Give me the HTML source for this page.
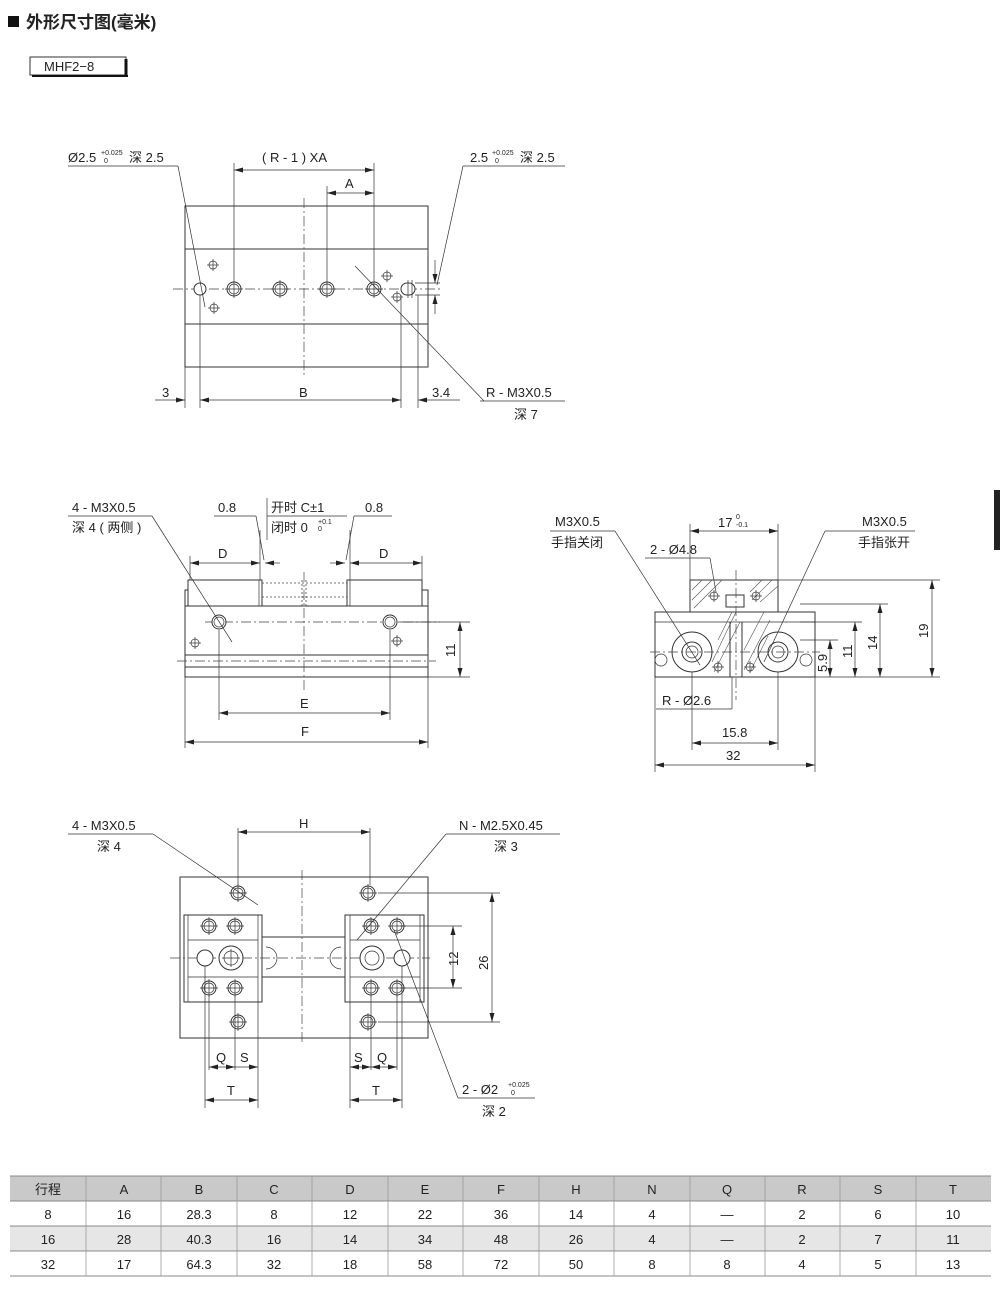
<!DOCTYPE html>
<html><head><meta charset="utf-8"><style>
body{margin:0;background:#fff;width:1000px;height:1293px;overflow:hidden;font-family:"Liberation Sans","Noto Sans CJK SC",sans-serif}
svg{position:absolute;left:0;top:0}
text{font-family:"Liberation Sans","Noto Sans CJK SC",sans-serif;fill:#222;font-size:13px}
.l{stroke:#333;stroke-width:1;fill:none}
.t{stroke:#333;stroke-width:0.7;fill:none}
.c{stroke:#444;stroke-width:0.7;fill:none;stroke-dasharray:10 3 2 3}
.d{stroke:#444;stroke-width:0.8;fill:none;stroke-dasharray:2 2}
.h{stroke:#333;stroke-width:1;fill:#fff}
</style></head><body>
<svg width="1000" height="1293" viewBox="0 0 1000 1293">
<defs>
<marker id="a" markerWidth="10" markerHeight="6" refX="9" refY="3" orient="auto-start-reverse" markerUnits="userSpaceOnUse"><path d="M0,0.5 L9,3 L0,5.5z" fill="#222"/></marker>
<g id="hole"><circle r="7" class="h"/><circle r="5" class="t"/><line x1="-9" y1="0" x2="9" y2="0" class="t"/><line x1="0" y1="-9" x2="0" y2="9" class="t"/></g>
<g id="pin"><circle r="4" class="t"/><line x1="-6" y1="0" x2="6" y2="0" class="t"/><line x1="0" y1="-6" x2="0" y2="6" class="t"/></g>
</defs>

<!-- title -->
<rect x="8" y="16" width="11" height="11" fill="#111"/>
<text x="26" y="28" style="font-size:17px;font-weight:bold">外形尺寸图(毫米)</text>
<rect x="30" y="57" width="96" height="18" fill="#fff" stroke="#333"/>
<line x1="126" y1="59" x2="126" y2="77" stroke="#111" stroke-width="3"/>
<line x1="32" y1="76" x2="128" y2="76" stroke="#111" stroke-width="2"/>
<text x="44" y="71" style="font-size:13px">MHF2−8</text>

<!-- ===== TOP VIEW ===== -->
<rect x="185" y="206" width="243" height="161" class="l"/>
<line x1="185" y1="249" x2="428" y2="249" class="l"/>
<line x1="185" y1="324" x2="428" y2="324" class="l"/>
<line x1="173" y1="289" x2="440" y2="289" class="c"/>
<line x1="304" y1="198" x2="304" y2="378" class="c"/>
<circle cx="200" cy="289" r="6" class="h"/>
<use href="#hole" x="234" y="289"/><use href="#hole" x="280" y="289"/><use href="#hole" x="327" y="289"/><use href="#hole" x="374" y="289"/>
<rect x="401" y="283" width="14" height="12" rx="6" class="h"/><line x1="408" y1="280" x2="408" y2="298" class="t"/><line x1="412" y1="280" x2="412" y2="298" class="t"/>
<use href="#pin" x="213" y="265"/><use href="#pin" x="214" y="308"/><use href="#pin" x="387" y="276"/><use href="#pin" x="397" y="297"/>
<line x1="415" y1="283" x2="440" y2="283" class="t"/><line x1="415" y1="295" x2="440" y2="295" class="t"/>
<line x1="435" y1="260" x2="435" y2="283" class="t" marker-end="url(#a)"/><line x1="435" y1="314" x2="435" y2="295" class="t" marker-end="url(#a)"/>
<!-- top dims -->
<line x1="234" y1="163" x2="234" y2="280" class="t"/><line x1="374" y1="163" x2="374" y2="280" class="t"/><line x1="327" y1="186" x2="327" y2="280" class="t"/>
<line x1="234" y1="170" x2="374" y2="170" class="t" marker-start="url(#a)" marker-end="url(#a)"/>
<line x1="327" y1="193" x2="374" y2="193" class="t" marker-start="url(#a)" marker-end="url(#a)"/>
<text x="262" y="162">( R - 1 ) XA</text><text x="345" y="188">A</text>
<!-- bottom dims -->
<line x1="185" y1="367" x2="185" y2="408" class="t"/><line x1="200" y1="295" x2="200" y2="408" class="t"/>
<line x1="401" y1="295" x2="401" y2="408" class="t"/><line x1="418" y1="295" x2="418" y2="408" class="t"/>
<line x1="155" y1="400" x2="185" y2="400" class="t" marker-end="url(#a)"/>
<line x1="200" y1="400" x2="401" y2="400" class="t" marker-start="url(#a)" marker-end="url(#a)"/>
<line x1="460" y1="400" x2="418" y2="400" class="t" marker-end="url(#a)"/>
<text x="162" y="397">3</text><text x="299" y="397">B</text><text x="432" y="397">3.4</text>
<text x="486" y="397">R - M3X0.5</text><line x1="480" y1="401" x2="565" y2="401" class="t"/><text x="514" y="419">深 7</text>
<line x1="355" y1="266" x2="484" y2="401" class="t"/>
<text x="68" y="162">Ø2.5</text><text x="101" y="155" style="font-size:7px">+0.025</text><text x="104" y="163" style="font-size:7px">0</text><text x="129" y="162">深 2.5</text>
<line x1="68" y1="166" x2="178" y2="166" class="t"/><line x1="178" y1="166" x2="205" y2="307" class="t"/>
<text x="470" y="162">2.5</text><text x="492" y="155" style="font-size:7px">+0.025</text><text x="495" y="163" style="font-size:7px">0</text><text x="520" y="162">深 2.5</text>
<line x1="463" y1="166" x2="565" y2="166" class="t"/><line x1="463" y1="166" x2="437" y2="285" class="t"/>

<!-- ===== FRONT VIEW ===== -->
<rect x="185" y="606" width="243" height="71" class="l"/>
<line x1="185" y1="655" x2="428" y2="655" class="l"/><line x1="185" y1="667" x2="428" y2="667" class="l"/>
<path d="M188,606 V580 H262 V606 M185,606 V590 H188" class="l"/>
<path d="M347,606 V580 H422 V606 M428,606 V590 H422" class="l"/>
<line x1="259" y1="580" x2="259" y2="606" class="t"/><line x1="350" y1="580" x2="350" y2="606" class="t"/>
<line x1="262" y1="583" x2="347" y2="583" class="d"/><line x1="262" y1="597" x2="347" y2="597" class="d"/>
<line x1="302" y1="580" x2="302" y2="606" class="d"/><line x1="306" y1="580" x2="306" y2="606" class="d"/>
<line x1="304" y1="572" x2="304" y2="690" class="c"/>
<line x1="205" y1="622" x2="440" y2="622" class="c"/><line x1="177" y1="661" x2="436" y2="661" class="c"/>
<circle cx="219" cy="622" r="7" class="h"/><circle cx="219" cy="622" r="5" class="t"/>
<circle cx="390" cy="622" r="7" class="h"/><circle cx="390" cy="622" r="5" class="t"/>
<use href="#pin" x="195" y="643"/><use href="#pin" x="397" y="641"/>
<line x1="190" y1="556" x2="190" y2="580" class="t"/><line x1="260" y1="530" x2="260" y2="580" class="t"/>
<line x1="350" y1="530" x2="350" y2="580" class="t"/><line x1="422" y1="556" x2="422" y2="580" class="t"/>
<line x1="190" y1="563" x2="260" y2="563" class="t" marker-start="url(#a)" marker-end="url(#a)"/>
<line x1="350" y1="563" x2="422" y2="563" class="t" marker-start="url(#a)" marker-end="url(#a)"/>
<line x1="280" y1="563" x2="265" y2="563" class="t" marker-end="url(#a)"/><line x1="330" y1="563" x2="345" y2="563" class="t" marker-end="url(#a)"/>
<text x="218" y="558">D</text><text x="379" y="558">D</text>
<text x="218" y="512">0.8</text><line x1="214" y1="516" x2="256" y2="516" class="t"/><line x1="256" y1="516" x2="264" y2="560" class="t"/>
<text x="365" y="512">0.8</text><line x1="354" y1="516" x2="392" y2="516" class="t"/><line x1="354" y1="516" x2="346" y2="560" class="t"/>
<text x="271" y="512">开时 C±1</text><line x1="267" y1="516" x2="347" y2="516" class="t"/><text x="271" y="532">闭时 0</text><text x="318" y="524" style="font-size:7px">+0.1</text><text x="318" y="531" style="font-size:7px">0</text>
<line x1="267" y1="498" x2="267" y2="540" class="t"/>
<text x="72" y="512">4 - M3X0.5</text><line x1="68" y1="516" x2="152" y2="516" class="t"/><text x="72" y="532">深 4 ( 两侧 )</text>
<line x1="152" y1="516" x2="232" y2="642" class="t"/>
<line x1="219" y1="630" x2="219" y2="720" class="t"/><line x1="390" y1="630" x2="390" y2="720" class="t"/>
<line x1="185" y1="677" x2="185" y2="748" class="t"/><line x1="428" y1="677" x2="428" y2="748" class="t"/>
<line x1="219" y1="713" x2="390" y2="713" class="t" marker-start="url(#a)" marker-end="url(#a)"/>
<line x1="185" y1="742" x2="428" y2="742" class="t" marker-start="url(#a)" marker-end="url(#a)"/>
<text x="300" y="708">E</text><text x="301" y="736">F</text>
<line x1="400" y1="622" x2="470" y2="622" class="t"/><line x1="428" y1="677" x2="470" y2="677" class="t"/>
<line x1="460" y1="622" x2="460" y2="677" class="t" marker-start="url(#a)" marker-end="url(#a)"/>
<text x="0" y="0" transform="translate(455,657) rotate(-90)">11</text>

<!-- ===== SIDE VIEW ===== -->
<rect x="655" y="612" width="160" height="65" class="l"/>
<line x1="655" y1="622" x2="815" y2="622" class="t"/>
<rect x="690" y="580" width="88" height="32" class="l"/>
<g stroke="#555" stroke-width="0.6">
<line x1="692" y1="590" x2="702" y2="580"/><line x1="692" y1="600" x2="712" y2="580"/><line x1="694" y1="608" x2="722" y2="580"/>
<line x1="750" y1="592" x2="762" y2="580"/><line x1="752" y1="600" x2="772" y2="580"/><line x1="760" y1="602" x2="778" y2="586"/>
<line x1="718" y1="640" x2="732" y2="612"/><line x1="712" y1="662" x2="736" y2="612"/><line x1="714" y1="672" x2="740" y2="622"/>
<line x1="744" y1="650" x2="764" y2="612"/><line x1="744" y1="670" x2="770" y2="620"/><line x1="750" y1="672" x2="768" y2="636"/>
</g>
<rect x="726" y="595" width="18" height="12" class="h"/>
<line x1="730" y1="622" x2="730" y2="677" class="l"/><line x1="742" y1="622" x2="742" y2="677" class="l"/>
<line x1="736" y1="570" x2="736" y2="700" class="c"/>
<circle cx="692" cy="652" r="20" class="l"/><circle cx="692" cy="652" r="10" class="l"/><circle cx="692" cy="652" r="6" class="t"/>
<circle cx="778" cy="652" r="20" class="l"/><circle cx="778" cy="652" r="10" class="l"/><circle cx="778" cy="652" r="6" class="t"/>
<circle cx="661" cy="660" r="6" class="t"/><circle cx="806" cy="660" r="6" class="t"/>
<use href="#pin" x="714" y="596"/><use href="#pin" x="756" y="596"/><use href="#pin" x="718" y="667"/><use href="#pin" x="750" y="667"/>
<line x1="650" y1="652" x2="820" y2="652" class="c"/>
<line x1="690" y1="524" x2="690" y2="580" class="t"/><line x1="778" y1="524" x2="778" y2="580" class="t"/>
<line x1="690" y1="531" x2="778" y2="531" class="t" marker-start="url(#a)" marker-end="url(#a)"/>
<text x="718" y="527">17</text><text x="736" y="519" style="font-size:7px">0</text><text x="736" y="527" style="font-size:7px">-0.1</text>
<text x="650" y="554">2 - Ø4.8</text><line x1="645" y1="558" x2="710" y2="558" class="t"/><line x1="710" y1="558" x2="716" y2="592" class="t"/>
<text x="555" y="526">M3X0.5</text><text x="551" y="547">手指关闭</text><line x1="550" y1="531" x2="615" y2="531" class="t"/><line x1="615" y1="531" x2="700" y2="665" class="t"/>
<text x="862" y="526">M3X0.5</text><text x="858" y="547">手指张开</text><line x1="825" y1="531" x2="915" y2="531" class="t"/><line x1="825" y1="531" x2="764" y2="662" class="t"/>
<text x="662" y="705">R - Ø2.6</text><line x1="656" y1="709" x2="732" y2="709" class="t"/><line x1="732" y1="709" x2="732" y2="677" class="t"/>
<line x1="692" y1="672" x2="692" y2="750" class="t"/><line x1="778" y1="672" x2="778" y2="750" class="t"/>
<line x1="655" y1="677" x2="655" y2="772" class="t"/><line x1="815" y1="677" x2="815" y2="772" class="t"/>
<line x1="692" y1="743" x2="778" y2="743" class="t" marker-start="url(#a)" marker-end="url(#a)"/>
<line x1="655" y1="765" x2="815" y2="765" class="t" marker-start="url(#a)" marker-end="url(#a)"/>
<text x="722" y="737">15.8</text><text x="726" y="760">32</text>
<line x1="815" y1="677" x2="940" y2="677" class="t"/>
<line x1="800" y1="640" x2="838" y2="640" class="t"/><line x1="800" y1="622" x2="862" y2="622" class="t"/><line x1="800" y1="604" x2="888" y2="604" class="t"/><line x1="778" y1="580" x2="940" y2="580" class="t"/>
<line x1="830" y1="640" x2="830" y2="677" class="t" marker-start="url(#a)" marker-end="url(#a)"/>
<line x1="855" y1="622" x2="855" y2="677" class="t" marker-start="url(#a)" marker-end="url(#a)"/>
<line x1="880" y1="604" x2="880" y2="677" class="t" marker-start="url(#a)" marker-end="url(#a)"/>
<line x1="932" y1="580" x2="932" y2="677" class="t" marker-start="url(#a)" marker-end="url(#a)"/>
<text transform="translate(827,672) rotate(-90)">5.9</text>
<text transform="translate(852,658) rotate(-90)">11</text>
<text transform="translate(877,650) rotate(-90)">14</text>
<text transform="translate(928,638) rotate(-90)">19</text>
<rect x="994" y="490" width="6" height="60" fill="#222"/>

<!-- ===== BOTTOM VIEW ===== -->
<rect x="180" y="877" width="248" height="161" class="l"/>
<rect x="184" y="915" width="78" height="87" class="h"/><line x1="188" y1="915" x2="188" y2="1002" class="t"/><line x1="258" y1="915" x2="258" y2="1002" class="t"/>
<rect x="345" y="915" width="79" height="87" class="h"/><line x1="350" y1="915" x2="350" y2="1002" class="t"/><line x1="420" y1="915" x2="420" y2="1002" class="t"/>
<line x1="188" y1="940" x2="258" y2="940" class="t"/><line x1="188" y1="977" x2="258" y2="977" class="t"/>
<line x1="350" y1="940" x2="420" y2="940" class="t"/><line x1="350" y1="977" x2="420" y2="977" class="t"/>
<line x1="262" y1="937" x2="345" y2="937" class="l"/><line x1="262" y1="977" x2="345" y2="977" class="l"/>
<line x1="170" y1="958" x2="430" y2="958" class="c"/><line x1="302" y1="870" x2="302" y2="1045" class="c"/>
<use href="#hole" x="238" y="893"/><use href="#hole" x="368" y="893"/><use href="#hole" x="238" y="1022"/><use href="#hole" x="368" y="1022"/>
<use href="#hole" x="209" y="926"/><use href="#hole" x="235" y="926"/><use href="#hole" x="209" y="988"/><use href="#hole" x="235" y="988"/>
<use href="#hole" x="371" y="926"/><use href="#hole" x="397" y="926"/><use href="#hole" x="371" y="988"/><use href="#hole" x="397" y="988"/>
<circle cx="205" cy="958" r="8" class="h"/><circle cx="402" cy="958" r="8" class="h"/>
<circle cx="231" cy="958" r="12" class="h"/><circle cx="231" cy="958" r="7" class="t"/><line x1="222" y1="958" x2="240" y2="958" class="t"/><line x1="231" y1="949" x2="231" y2="967" class="t"/>
<circle cx="372" cy="958" r="12" class="h"/><circle cx="372" cy="958" r="7" class="t"/>
<path d="M266,947 A10,10 0 0 1 266,969" class="t"/><path d="M341,947 A10,10 0 0 0 341,969" class="t"/>
<line x1="238" y1="828" x2="238" y2="885" class="t"/><line x1="370" y1="828" x2="370" y2="885" class="t"/>
<line x1="238" y1="832" x2="370" y2="832" class="t" marker-start="url(#a)" marker-end="url(#a)"/>
<text x="299" y="828">H</text>
<text x="72" y="830">4 - M3X0.5</text><text x="97" y="851">深 4</text><line x1="68" y1="834" x2="153" y2="834" class="t"/><line x1="153" y1="834" x2="258" y2="905" class="t"/>
<text x="459" y="830">N - M2.5X0.45</text><text x="494" y="851">深 3</text><line x1="446" y1="834" x2="560" y2="834" class="t"/><line x1="446" y1="834" x2="357" y2="940" class="t"/>
<line x1="400" y1="926" x2="462" y2="926" class="t"/><line x1="400" y1="988" x2="462" y2="988" class="t"/>
<line x1="378" y1="893" x2="500" y2="893" class="t"/><line x1="378" y1="1022" x2="500" y2="1022" class="t"/>
<line x1="453" y1="926" x2="453" y2="988" class="t" marker-start="url(#a)" marker-end="url(#a)"/>
<line x1="492" y1="893" x2="492" y2="1022" class="t" marker-start="url(#a)" marker-end="url(#a)"/>
<text transform="translate(458,966) rotate(-90)">12</text><text transform="translate(488,970) rotate(-90)">26</text>
<text x="462" y="1094">2 - Ø2</text><text x="508" y="1087" style="font-size:7px">+0.025</text><text x="511" y="1095" style="font-size:7px">0</text><text x="482" y="1116">深 2</text>
<line x1="458" y1="1098" x2="535" y2="1098" class="t"/><line x1="458" y1="1098" x2="394" y2="930" class="t"/>
<!-- Q S T -->
<line x1="205" y1="966" x2="205" y2="1108" class="t"/><line x1="209" y1="996" x2="209" y2="1070" class="t"/><line x1="235" y1="996" x2="235" y2="1070" class="t"/><line x1="258" y1="1002" x2="258" y2="1108" class="t"/>
<line x1="350" y1="1002" x2="350" y2="1108" class="t"/><line x1="371" y1="996" x2="371" y2="1070" class="t"/><line x1="397" y1="996" x2="397" y2="1070" class="t"/><line x1="402" y1="966" x2="402" y2="1108" class="t"/>
<line x1="209" y1="1067" x2="235" y2="1067" class="t" marker-start="url(#a)" marker-end="url(#a)"/>
<line x1="235" y1="1067" x2="258" y2="1067" class="t" marker-end="url(#a)"/>
<line x1="350" y1="1067" x2="371" y2="1067" class="t" marker-start="url(#a)" marker-end="url(#a)"/>
<line x1="371" y1="1067" x2="397" y2="1067" class="t" marker-start="url(#a)" marker-end="url(#a)"/>
<line x1="205" y1="1100" x2="258" y2="1100" class="t" marker-start="url(#a)" marker-end="url(#a)"/>
<line x1="350" y1="1100" x2="402" y2="1100" class="t" marker-start="url(#a)" marker-end="url(#a)"/>
<text x="216" y="1062">Q</text><text x="240" y="1062">S</text><text x="354" y="1062">S</text><text x="377" y="1062">Q</text>
<text x="227" y="1095">T</text><text x="372" y="1095">T</text>

<!-- ===== TABLE ===== -->
<rect x="10" y="1176" width="981" height="25" fill="#c9c9c9"/>
<rect x="10" y="1226" width="981" height="25" fill="#e6e6e6"/>
<g stroke="#888" stroke-width="1">
<line x1="10" y1="1176" x2="991" y2="1176"/><line x1="10" y1="1201" x2="991" y2="1201"/><line x1="10" y1="1226" x2="991" y2="1226"/><line x1="10" y1="1251" x2="991" y2="1251"/><line x1="10" y1="1276" x2="991" y2="1276"/>
</g>
<g stroke="#999" stroke-width="0.8">
<line x1="86" y1="1176" x2="86" y2="1276"/><line x1="161" y1="1176" x2="161" y2="1276"/><line x1="237" y1="1176" x2="237" y2="1276"/><line x1="312" y1="1176" x2="312" y2="1276"/><line x1="388" y1="1176" x2="388" y2="1276"/><line x1="463" y1="1176" x2="463" y2="1276"/><line x1="539" y1="1176" x2="539" y2="1276"/><line x1="614" y1="1176" x2="614" y2="1276"/><line x1="690" y1="1176" x2="690" y2="1276"/><line x1="765" y1="1176" x2="765" y2="1276"/><line x1="840" y1="1176" x2="840" y2="1276"/><line x1="916" y1="1176" x2="916" y2="1276"/>
</g>
<g style="font-size:14px" text-anchor="middle">
<text x="48" y="1194">行程</text><text x="124" y="1194">A</text><text x="199" y="1194">B</text><text x="274" y="1194">C</text><text x="350" y="1194">D</text><text x="425" y="1194">E</text><text x="501" y="1194">F</text><text x="576" y="1194">H</text><text x="652" y="1194">N</text><text x="727" y="1194">Q</text><text x="802" y="1194">R</text><text x="878" y="1194">S</text><text x="953" y="1194">T</text>
<text x="48" y="1219">8</text><text x="124" y="1219">16</text><text x="199" y="1219">28.3</text><text x="274" y="1219">8</text><text x="350" y="1219">12</text><text x="425" y="1219">22</text><text x="501" y="1219">36</text><text x="576" y="1219">14</text><text x="652" y="1219">4</text><text x="727" y="1219">—</text><text x="802" y="1219">2</text><text x="878" y="1219">6</text><text x="953" y="1219">10</text>
<text x="48" y="1244">16</text><text x="124" y="1244">28</text><text x="199" y="1244">40.3</text><text x="274" y="1244">16</text><text x="350" y="1244">14</text><text x="425" y="1244">34</text><text x="501" y="1244">48</text><text x="576" y="1244">26</text><text x="652" y="1244">4</text><text x="727" y="1244">—</text><text x="802" y="1244">2</text><text x="878" y="1244">7</text><text x="953" y="1244">11</text>
<text x="48" y="1269">32</text><text x="124" y="1269">17</text><text x="199" y="1269">64.3</text><text x="274" y="1269">32</text><text x="350" y="1269">18</text><text x="425" y="1269">58</text><text x="501" y="1269">72</text><text x="576" y="1269">50</text><text x="652" y="1269">8</text><text x="727" y="1269">8</text><text x="802" y="1269">4</text><text x="878" y="1269">5</text><text x="953" y="1269">13</text>
</g>
</svg>
</body></html>
